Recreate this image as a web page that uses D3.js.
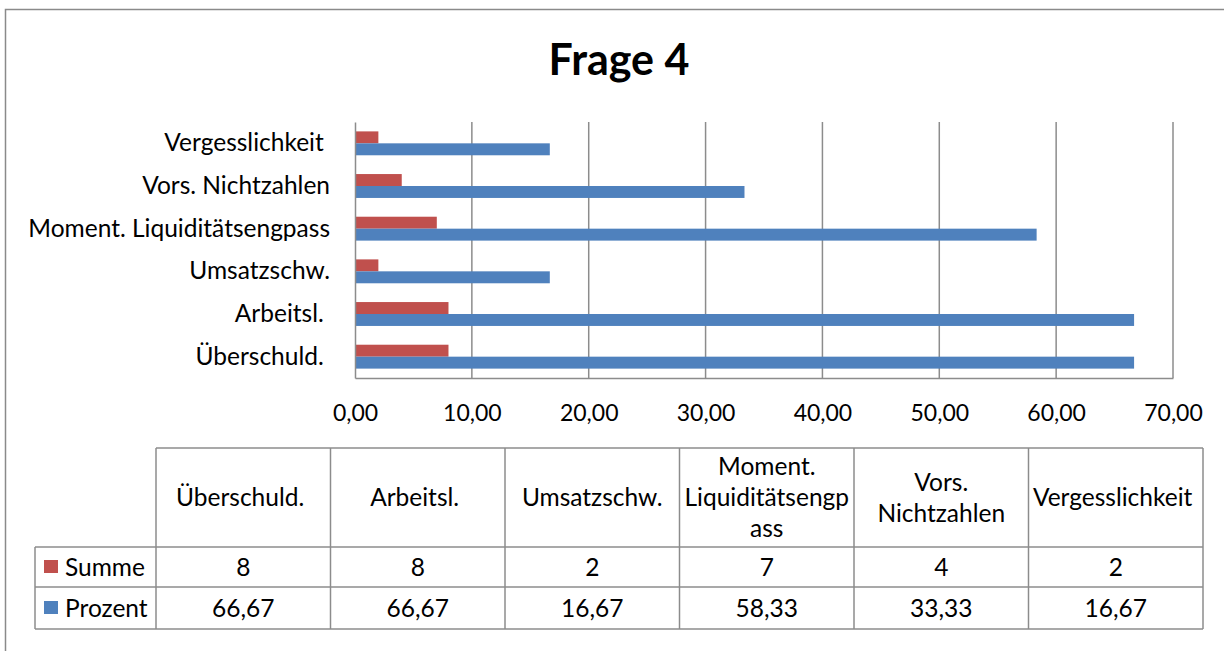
<!DOCTYPE html>
<html>
<head>
<meta charset="utf-8">
<script src="https://cdn.jsdelivr.net/npm/d3@7"></script>
<style>
  html, body { margin: 0; padding: 0; background: #fff; }
  svg { display: block; }
  text { font-family: Lato, "Open Sans", sans-serif; fill: #000; white-space: pre; }
</style>
</head>
<body>
<svg id="chart" width="1224" height="651"></svg>
<script>
// ---- data ----
const title = "Frage 4";
const categories = ["Überschuld. ", "Arbeitsl. ", "Umsatzschw.", "Moment. Liquiditätsengpass", "Vors. Nichtzahlen", "Vergesslichkeit "];
const seriesNames = ["Summe", "Prozent"];
const summe = [8, 8, 2, 7, 4, 2];
const prozent = [66.67, 66.67, 16.67, 58.33, 33.33, 16.67];
const xTicks = [0, 10, 20, 30, 40, 50, 60, 70];
const seriesColors = ["#C0504D", "#4F81BD"];

// ---- layout ----
const plot = { left: 355, right: 1173, top: 122, bottom: 378 };
const table = { left: 156, right: 1203, legendLeft: 35, top: 448, headBottom: 547, row1Bottom: 587, row2Bottom: 629 };
const labelSize = 24.5;
const tickSize = 23;
const gridColor = "#8c8c8c";

const svg = d3.select("#chart");
const deLocale = d3.formatLocale({ decimal: ",", thousands: ".", grouping: [3], currency: ["", " €"] });
const fmt2 = deLocale.format(".2f");
const fmt0 = deLocale.format("d");

// outer border
svg.append("rect").attr("x", 5.5).attr("y", 9.5).attr("width", 1230).attr("height", 700)
  .attr("fill", "none").attr("stroke", "#8a8a8a").attr("stroke-width", 1.5);

// title
svg.append("text").attr("x", 619).attr("y", 75).attr("text-anchor", "middle")
  .attr("font-size", 43).attr("font-weight", "bold").text(title);

// scales
const x = d3.scaleLinear().domain([0, 70]).range([plot.left, plot.right]);
const y = d3.scaleBand().domain(categories).range([plot.bottom, plot.top]).paddingInner(0.44).paddingOuter(0.22);
const ySub = d3.scaleBand().domain(seriesNames).range([0, y.bandwidth()]);

// gridlines
svg.append("g").selectAll("line").data(xTicks.filter(t => t > 0)).join("line")
  .attr("x1", d => x(d)).attr("x2", d => x(d)).attr("y1", plot.top).attr("y2", plot.bottom)
  .attr("stroke", gridColor).attr("stroke-width", 1.5);

// bars
const seriesData = [summe, prozent];
seriesNames.forEach((s, si) => {
  svg.append("g").selectAll("rect").data(categories).join("rect")
    .attr("x", x(0))
    .attr("y", d => y(d) + ySub(s))
    .attr("width", (d, i) => x(seriesData[si][i]) - x(0))
    .attr("height", ySub.bandwidth())
    .attr("fill", seriesColors[si]);
});

// axes
const xAxis = d3.axisBottom(x).tickValues(xTicks).tickSize(0).tickPadding(27).tickFormat(fmt2);
const gx = svg.append("g").attr("transform", `translate(0,${plot.bottom})`).call(xAxis);
gx.select(".domain").attr("stroke", gridColor).attr("stroke-width", 1.5);
gx.selectAll("text").attr("font-size", tickSize).attr("font-family", "Lato").attr("fill", "#000");

const yAxis = d3.axisLeft(y).tickSize(0).tickPadding(25);
const gy = svg.append("g").attr("transform", `translate(${plot.left},0)`).call(yAxis);
gy.select(".domain").attr("stroke", gridColor).attr("stroke-width", 1.5);
gy.selectAll("text").attr("font-size", labelSize).attr("font-family", "Lato").attr("fill", "#000");

// data table
const colX = d3.scaleBand().domain(categories).range([table.left, table.right]);
const tg = svg.append("g");
const lineAttrs = sel => sel.attr("stroke", gridColor).attr("stroke-width", 1.5);
lineAttrs(tg.append("line").attr("x1", table.left).attr("x2", table.right).attr("y1", table.top).attr("y2", table.top));
[table.headBottom, table.row1Bottom, table.row2Bottom].forEach(yy =>
  lineAttrs(tg.append("line").attr("x1", table.legendLeft).attr("x2", table.right).attr("y1", yy).attr("y2", yy)));
lineAttrs(tg.append("line").attr("x1", table.legendLeft).attr("x2", table.legendLeft).attr("y1", table.headBottom).attr("y2", table.row2Bottom));
categories.forEach(c => lineAttrs(tg.append("line").attr("x1", colX(c)).attr("x2", colX(c)).attr("y1", table.top).attr("y2", table.row2Bottom)));
lineAttrs(tg.append("line").attr("x1", table.right).attr("x2", table.right).attr("y1", table.top).attr("y2", table.row2Bottom));

function measure(str) {
  const t = svg.append("text").attr("font-size", labelSize).text(str);
  const w = t.node().getComputedTextLength();
  t.remove();
  return w;
}
function wrap(str, maxW) {
  const trailing = str.endsWith(" ");
  const words = str.trim().split(/\s+/);
  const lines = [];
  let cur = "";
  words.forEach(w => {
    const cand = cur ? cur + " " + w : w;
    if (measure(cand) <= maxW) { cur = cand; return; }
    if (cur) lines.push(cur);
    cur = "";
    if (measure(w) <= maxW) { cur = w; return; }
    let part = "";
    for (const ch of w) {
      if (measure(part + ch) > maxW) { lines.push(part); part = ch; }
      else part += ch;
    }
    cur = part;
  });
  if (cur) lines.push(cur);
  if (trailing) lines[lines.length - 1] += " ";
  return lines;
}
const lh = 31;
categories.forEach(c => {
  const lines = wrap(c, colX.bandwidth() - 3);
  const cx = colX(c) + colX.bandwidth() / 2;
  const cy = (table.top + table.headBottom) / 2;
  const t = tg.append("text").attr("text-anchor", "middle").attr("font-size", labelSize);
  lines.forEach((ln, i) => {
    t.append("tspan").attr("x", cx).attr("y", cy + (i - (lines.length - 1) / 2) * lh).attr("dy", "0.35em").text(ln);
  });
});
const rows = [
  { name: seriesNames[0], color: seriesColors[0], vals: summe.map(fmt0), y0: table.headBottom, y1: table.row1Bottom },
  { name: seriesNames[1], color: seriesColors[1], vals: prozent.map(fmt2), y0: table.row1Bottom, y1: table.row2Bottom }
];
rows.forEach(r => {
  const cy = (r.y0 + r.y1) / 2;
  tg.append("rect").attr("x", 44).attr("y", cy - 7).attr("width", 14).attr("height", 13).attr("fill", r.color);
  tg.append("text").attr("x", 65).attr("y", cy).attr("dy", "0.35em").attr("font-size", labelSize).text(r.name);
  categories.forEach((c, i) => {
    tg.append("text").attr("x", colX(c) + colX.bandwidth() / 2).attr("y", cy).attr("dy", "0.35em")
      .attr("text-anchor", "middle").attr("font-size", labelSize).text(r.vals[i]);
  });
});
</script>
</body>
</html>
